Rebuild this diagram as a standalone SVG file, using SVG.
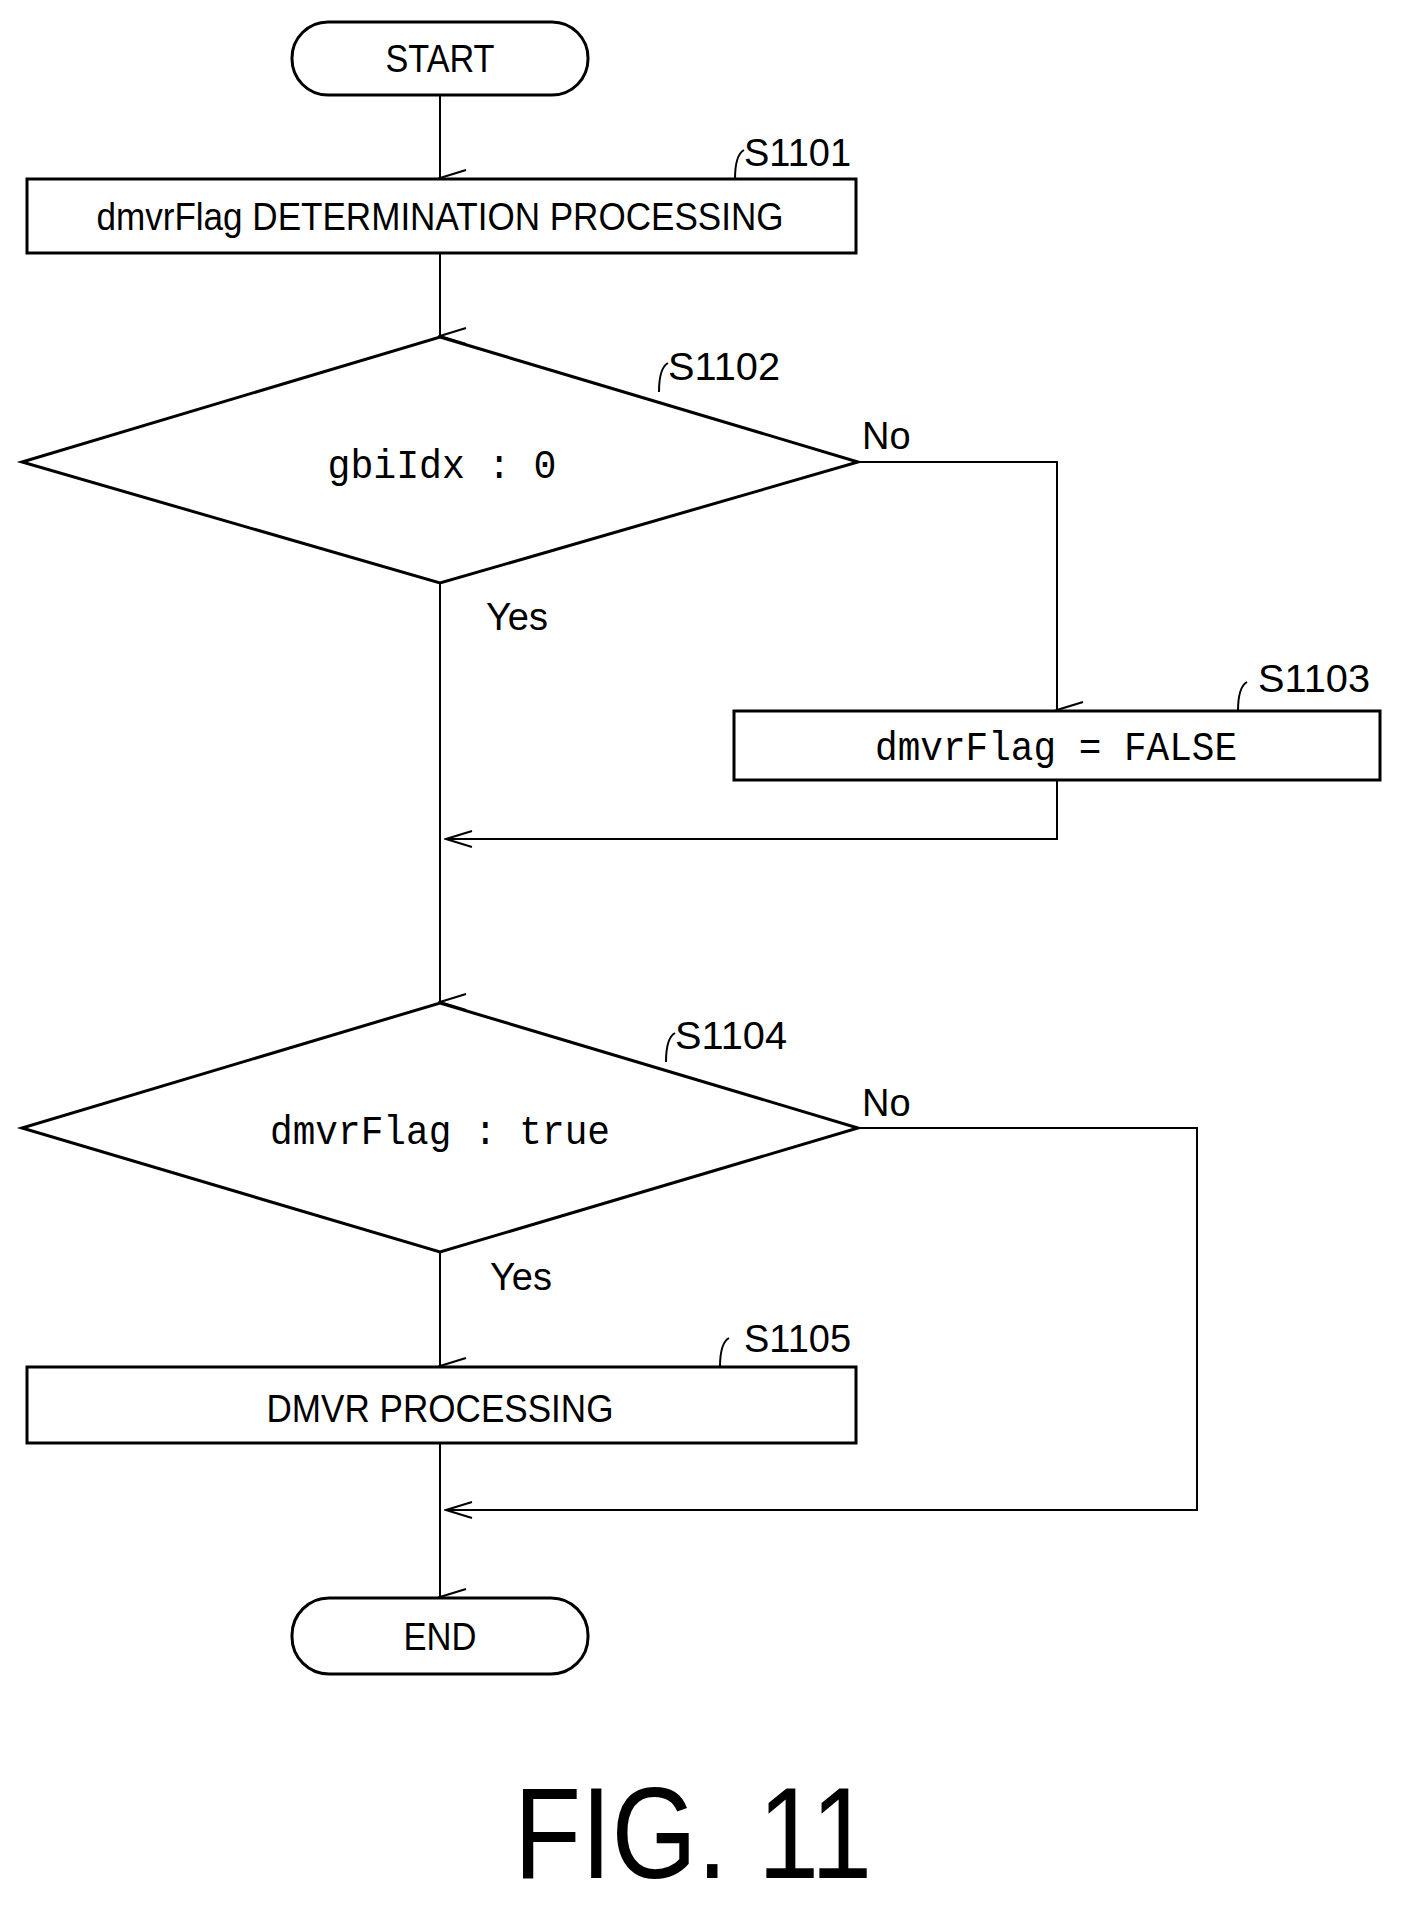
<svg xmlns="http://www.w3.org/2000/svg" width="1410" height="1918" viewBox="0 0 1410 1918">
<style>
.s{fill:#fff;stroke:#000;stroke-width:3}
.c{fill:none;stroke:#000;stroke-width:2}
.t{font-family:"Liberation Sans",Arial,sans-serif;font-size:38px;text-anchor:middle}
.m{font-family:"Liberation Mono","DejaVu Sans Mono",monospace;font-size:40px;text-anchor:middle}
.l{font-family:"Liberation Sans",Arial,sans-serif;font-size:38px}
</style>
<defs>
<marker id="a" markerWidth="20" markerHeight="30" refX="10" refY="28" orient="auto" markerUnits="userSpaceOnUse" viewBox="0 0 20 30">
<polyline points="2,2 10,28 18,2" fill="none" stroke="#000" stroke-width="2"/>
</marker>
<marker id="h" markerWidth="30" markerHeight="20" refX="2" refY="10" orient="0" markerUnits="userSpaceOnUse" viewBox="0 0 30 20">
<polyline points="28,2 2,10 28,18" fill="none" stroke="#000" stroke-width="2"/>
</marker>
</defs>
<g id="connectors">
<line class="c" x1="440" y1="96" x2="440" y2="178" marker-end="url(#a)"/>
<line class="c" x1="440" y1="254" x2="440" y2="336" marker-end="url(#a)"/>
<polyline class="c" points="858,462 1057,462 1057,710" marker-end="url(#a)"/>
<line class="c" x1="440" y1="583" x2="440" y2="1002" marker-end="url(#a)"/>
<polyline class="c" points="1057,780 1057,839 446,839"/>
<line class="c" x1="446" y1="839" x2="446" y2="839" marker-end="url(#h)"/>
<polyline class="c" points="858,1128 1197,1128 1197,1510 446,1510"/>
<line class="c" x1="446" y1="1510" x2="446" y2="1510" marker-end="url(#h)"/>
<line class="c" x1="440" y1="1252" x2="440" y2="1366" marker-end="url(#a)"/>
<line class="c" x1="440" y1="1443" x2="440" y2="1597" marker-end="url(#a)"/>
<text class="l" x="862" y="449">No</text>
<text class="l" x="486" y="630">Yes</text>
<text class="l" x="862" y="1116">No</text>
<text class="l" x="490" y="1290">Yes</text>
</g>
<g id="start"><rect class="s" x="292" y="22" width="296" height="73" rx="36"/><text class="t" x="440" y="72" textLength="109" lengthAdjust="spacingAndGlyphs">START</text></g>
<g id="s1101"><rect class="s" x="27" y="179" width="829" height="74"/><text class="t" x="440" y="230" textLength="687" lengthAdjust="spacingAndGlyphs">dmvrFlag DETERMINATION PROCESSING</text>
<path class="c" d="M735,179 Q735,155 744,150"/><text class="l" x="744" y="166" textLength="107" lengthAdjust="spacingAndGlyphs">S1101</text></g>
<g id="s1102"><polygon class="s" points="440,337 858,462 440,583 22,462"/><text class="m" x="442" y="478" textLength="229" lengthAdjust="spacingAndGlyphs">gbiIdx : 0</text>
<path class="c" d="M659,392 Q659,368 668,363"/><text class="l" x="668" y="380" textLength="112" lengthAdjust="spacingAndGlyphs">S1102</text></g>
<g id="s1103"><rect class="s" x="734" y="711" width="646" height="69"/><text class="m" x="1056" y="760" textLength="362" lengthAdjust="spacingAndGlyphs">dmvrFlag = FALSE</text>
<path class="c" d="M1238,711 Q1238,687 1247,682"/><text class="l" x="1258" y="692" textLength="112" lengthAdjust="spacingAndGlyphs">S1103</text></g>
<g id="s1104"><polygon class="s" points="440,1003 858,1128 440,1252 22,1128"/><text class="m" x="440" y="1144" textLength="340" lengthAdjust="spacingAndGlyphs">dmvrFlag : true</text>
<path class="c" d="M666,1062 Q666,1038 675,1033"/><text class="l" x="675" y="1049" textLength="112" lengthAdjust="spacingAndGlyphs">S1104</text></g>
<g id="s1105"><rect class="s" x="27" y="1367" width="829" height="76"/><text class="t" x="440" y="1422" textLength="347" lengthAdjust="spacingAndGlyphs">DMVR PROCESSING</text>
<path class="c" d="M720,1367 Q720,1343 729,1338"/><text class="l" x="744" y="1352" textLength="107" lengthAdjust="spacingAndGlyphs">S1105</text></g>
<g id="end"><rect class="s" x="292" y="1598" width="296" height="76" rx="37"/><text class="t" x="440" y="1650" textLength="73" lengthAdjust="spacingAndGlyphs">END</text></g>
<text x="693" y="1878" font-family="Liberation Sans,Arial,sans-serif" font-size="130" text-anchor="middle" textLength="358" lengthAdjust="spacingAndGlyphs">FIG. 11</text>
</svg>
